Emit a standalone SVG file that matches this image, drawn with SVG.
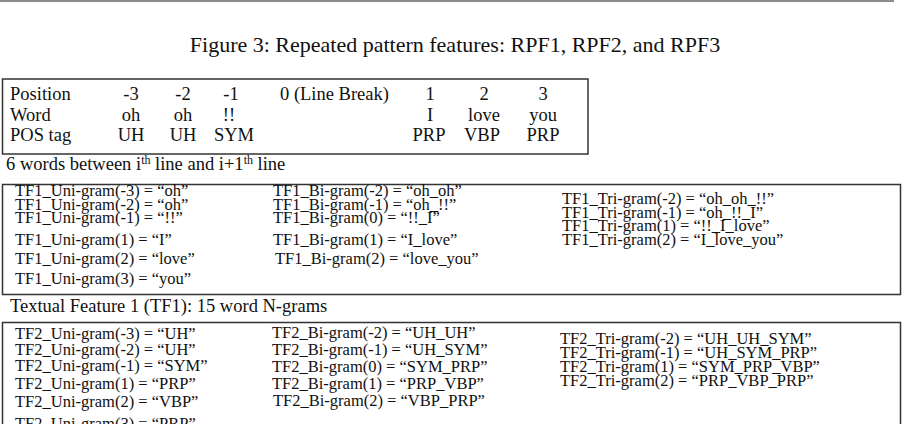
<svg xmlns="http://www.w3.org/2000/svg" width="905" height="424" viewBox="0 0 905 424">
<style>
text{font-family:"Liberation Serif","Times New Roman",serif;fill:#111}
.ti{font-size:22px}
.tb{font-size:18.5px}
.c{text-anchor:middle}
.f{font-size:16.5px}
.sup{font-size:12px}
.box{fill:none;stroke:#333;stroke-width:1.5}
.rule{stroke:#666;stroke-width:1.5}
</style>
<rect width="905" height="424" fill="#fff"/>
<g id="top-rule"><line class="rule" x1="0" y1="1" x2="894" y2="1"/></g>
<g id="title"><text class="ti" x="455" y="52" text-anchor="middle">Figure 3: Repeated pattern features: RPF1, RPF2, and RPF3</text></g>
<g id="connectors"/>
<g id="position-table">
<rect class="box" x="2.5" y="79" width="585.5" height="75"/>
<text class="tb" x="10" y="100">Position</text>
<text class="tb" x="10" y="121">Word</text>
<text class="tb" x="10" y="141">POS tag</text>
<text class="tb" x="280" y="100">0 (Line Break)</text>
<g>
<text class="tb c" x="131" y="100">-3</text>
<text class="tb c" x="183" y="100">-2</text>
<text class="tb c" x="231" y="100">-1</text>
<text class="tb c" x="430" y="100">1</text>
<text class="tb c" x="484" y="100">2</text>
<text class="tb c" x="543" y="100">3</text>
<text class="tb c" x="131" y="121">oh</text>
<text class="tb c" x="183" y="121">oh</text>
<text class="tb c" x="229" y="121">!!</text>
<text class="tb c" x="430" y="121">I</text>
<text class="tb c" x="484" y="121">love</text>
<text class="tb c" x="543" y="121">you</text>
<text class="tb c" x="131" y="141">UH</text>
<text class="tb c" x="183" y="141">UH</text>
<text class="tb c" x="234" y="141">SYM</text>
<text class="tb c" x="429" y="141">PRP</text>
<text class="tb c" x="482" y="141">VBP</text>
<text class="tb c" x="543" y="141">PRP</text>
</g>
</g>
<g id="caption-words"><text class="tb" x="6" y="170">6 words between i<tspan class="sup" dy="-6">th</tspan><tspan dy="6"> line and i+1</tspan><tspan class="sup" dy="-6">th</tspan><tspan dy="6"> line</tspan></text></g>
<g id="tf1-box">
<rect class="box" x="2.5" y="184.5" width="898" height="110"/>
<text class="f" x="15" y="196">TF1_Uni-gram(-3) = “oh”</text>
<text class="f" x="15" y="209.5">TF1_Uni-gram(-2) = “oh”</text>
<text class="f" x="15" y="223">TF1_Uni-gram(-1) = “!!”</text>
<text class="f" x="15" y="245">TF1_Uni-gram(1) = “I”</text>
<text class="f" x="15" y="264">TF1_Uni-gram(2) = “love”</text>
<text class="f" x="15" y="284">TF1_Uni-gram(3) = “you”</text>
<text class="f" x="273" y="196">TF1_Bi-gram(-2) = “oh_oh”</text>
<text class="f" x="273" y="209.5">TF1_Bi-gram(-1) = “oh_!!”</text>
<text class="f" x="273" y="223">TF1_Bi-gram(0) = “!!_I”</text>
<text class="f" x="273" y="245">TF1_Bi-gram(1) = “I_love”</text>
<text class="f" x="275" y="264">TF1_Bi-gram(2) = “love_you”</text>
<text class="f" x="562" y="204">TF1_Tri-gram(-2) = “oh_oh_!!”</text>
<text class="f" x="562" y="217.5">TF1_Tri-gram(-1) = “oh_!!_I”</text>
<text class="f" x="562" y="231">TF1_Tri-gram(1) = “!!_I_love”</text>
<text class="f" x="562" y="245">TF1_Tri-gram(2) = “I_love_you”</text>
</g>
<g id="caption-tf1"><text class="tb" x="10" y="312">Textual Feature 1 (TF1): 15 word N-grams</text></g>
<g id="tf2-box">
<path class="box" d="M2.5,430 V322.5 H900.5 V430"/>
<text class="f" x="15" y="339">TF2_Uni-gram(-3) = “UH”</text>
<text class="f" x="15" y="355">TF2_Uni-gram(-2) = “UH”</text>
<text class="f" x="15" y="371">TF2_Uni-gram(-1) = “SYM”</text>
<text class="f" x="15" y="389">TF2_Uni-gram(1) = “PRP”</text>
<text class="f" x="15" y="407">TF2_Uni-gram(2) = “VBP”</text>
<text class="f" x="15" y="429">TF2_Uni-gram(3) = “PRP”</text>
<text class="f" x="272" y="338">TF2_Bi-gram(-2) = “UH_UH”</text>
<text class="f" x="272" y="355">TF2_Bi-gram(-1) = “UH_SYM”</text>
<text class="f" x="272" y="372">TF2_Bi-gram(0) = “SYM_PRP”</text>
<text class="f" x="272" y="389">TF2_Bi-gram(1) = “PRP_VBP”</text>
<text class="f" x="273" y="406">TF2_Bi-gram(2) = “VBP_PRP”</text>
<text class="f" x="560" y="344">TF2_Tri-gram(-2) = “UH_UH_SYM”</text>
<text class="f" x="560" y="358">TF2_Tri-gram(-1) = “UH_SYM_PRP”</text>
<text class="f" x="560" y="372">TF2_Tri-gram(1) = “SYM_PRP_VBP”</text>
<text class="f" x="560" y="386">TF2_Tri-gram(2) = “PRP_VBP_PRP”</text>
</g>
</svg>
